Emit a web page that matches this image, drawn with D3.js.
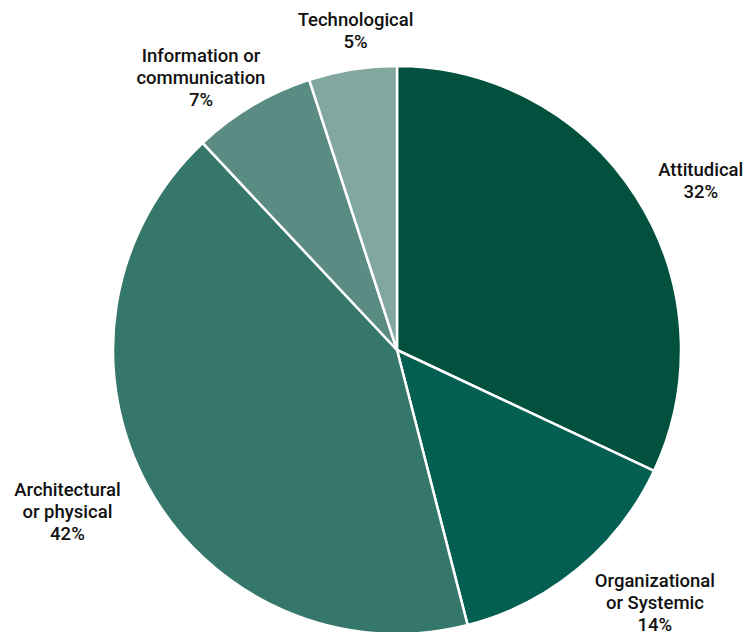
<!DOCTYPE html>
<html>
<head>
<meta charset="utf-8">
<script src="https://cdn.jsdelivr.net/npm/d3@7"></script>
<style>
  body { margin: 0; background: #fff; }
  text { font-family: Roboto, "Liberation Sans", Arial, sans-serif; font-weight: 500; fill: #111; }
</style>
</head>
<body>
<div id="chart"></div>
<script>
// barrier categories, clockwise from 12 o'clock
const categories = ["Attitudical", "Organizational or Systemic", "Architectural or physical", "Information or communication", "Technological"];
const labelLines = [["Attitudical"], ["Organizational", "or Systemic"], ["Architectural", "or physical"], ["Information or", "communication"], ["Technological"]];
const shares = [32, 14, 42, 7, 5];
const colors = ["#02513f", "#035f51", "#35776b", "#5a8c83", "#81a79f"];

const width = 746, height = 632;
const cx = 397, cy = 350, radius = 284;

// where each label block sits: distance from centre and angle nudge (deg)
const labelRadius = [348, 361, 367, 336, 322];
const labelShift = [3.2, -6, 2.7, -5.1, 1.6];
const lineGap = 22;

const svg = d3.select("#chart").append("svg")
  .attr("width", width)
  .attr("height", height);

const g = svg.append("g").attr("transform", `translate(${cx},${cy})`);

const pie = d3.pie().sort(null).value(d => d);
const arcs = pie(shares);

const arc = d3.arc().innerRadius(0).outerRadius(radius);

g.selectAll("path")
  .data(arcs)
  .enter()
  .append("path")
  .attr("d", arc)
  .attr("fill", (d, i) => colors[i])
  .attr("stroke", "#fff")
  .attr("stroke-width", 2.5)
  .attr("stroke-linejoin", "round");

// labels
arcs.forEach((d, i) => {
  const mid = (d.startAngle + d.endAngle) / 2 + labelShift[i] * Math.PI / 180;
  const x = labelRadius[i] * Math.sin(mid);
  const y = -labelRadius[i] * Math.cos(mid);
  const lines = labelLines[i].concat([shares[i] + "%"]);
  const n = lines.length;

  const t = g.append("text")
    .attr("text-anchor", "middle")
    .attr("font-size", 18.5);

  lines.forEach((ln, k) => {
    t.append("tspan")
      .attr("x", x)
      .attr("y", y + (k - (n - 1) / 2) * lineGap + 6.5)
      .text(ln);
  });
});
</script>
</body>
</html>
